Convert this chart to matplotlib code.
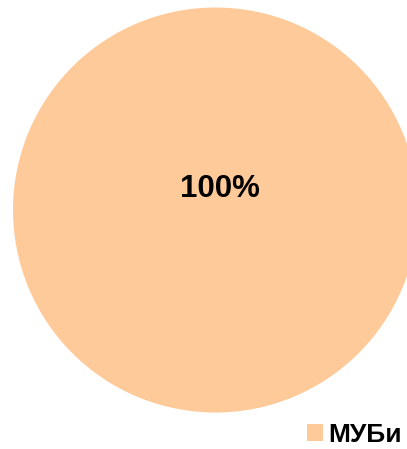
import matplotlib
matplotlib.use("Agg")
import matplotlib.pyplot as plt
from matplotlib import font_manager
from matplotlib.font_manager import FontProperties

# bold regular-width Liberation Sans, taken from its file so the Narrow cut is never picked
arquivo_fonte = None
for caminho in font_manager.findSystemFonts():
    if caminho.rsplit("/", 1)[-1] == "LiberationSans-Bold.ttf":
        arquivo_fonte = caminho
        break

def fonte(tamanho):
    if arquivo_fonte:
        return FontProperties(fname=arquivo_fonte, size=tamanho)
    return FontProperties(family="DejaVu Sans", weight="bold", size=tamanho)

# single category, whole share
categorias = ["МУБи"]
valores = [100]
cores = ["#FFCA99"]

fig = plt.figure(figsize=(4.07, 4.49), dpi=100)
ax = fig.add_axes([13 / 407, 36.5 / 449, 405 / 407, 405 / 449])

fatias, _, rotulos = ax.pie(
    valores,
    colors=cores,
    radius=1.0,
    startangle=-102,
    autopct="%1.0f%%",
    pctdistance=0.108,
    wedgeprops={"linewidth": 0},
    textprops={"color": "black"},
)
for r in rotulos:
    r.set_fontproperties(fonte(22.5))
ax.set_xlim(-1, 1)
ax.set_ylim(-1, 1)
ax.set_aspect("equal")
ax.axis("off")

fig.legend(
    fatias,
    categorias,
    loc="center left",
    bbox_to_anchor=(307 / 407, 14 / 449),
    frameon=False,
    borderpad=0,
    borderaxespad=0,
    handlelength=0.6,
    handleheight=0.6,
    handletextpad=0.22,
    prop=fonte(19),
)

fig.savefig("out.png", dpi=100)
